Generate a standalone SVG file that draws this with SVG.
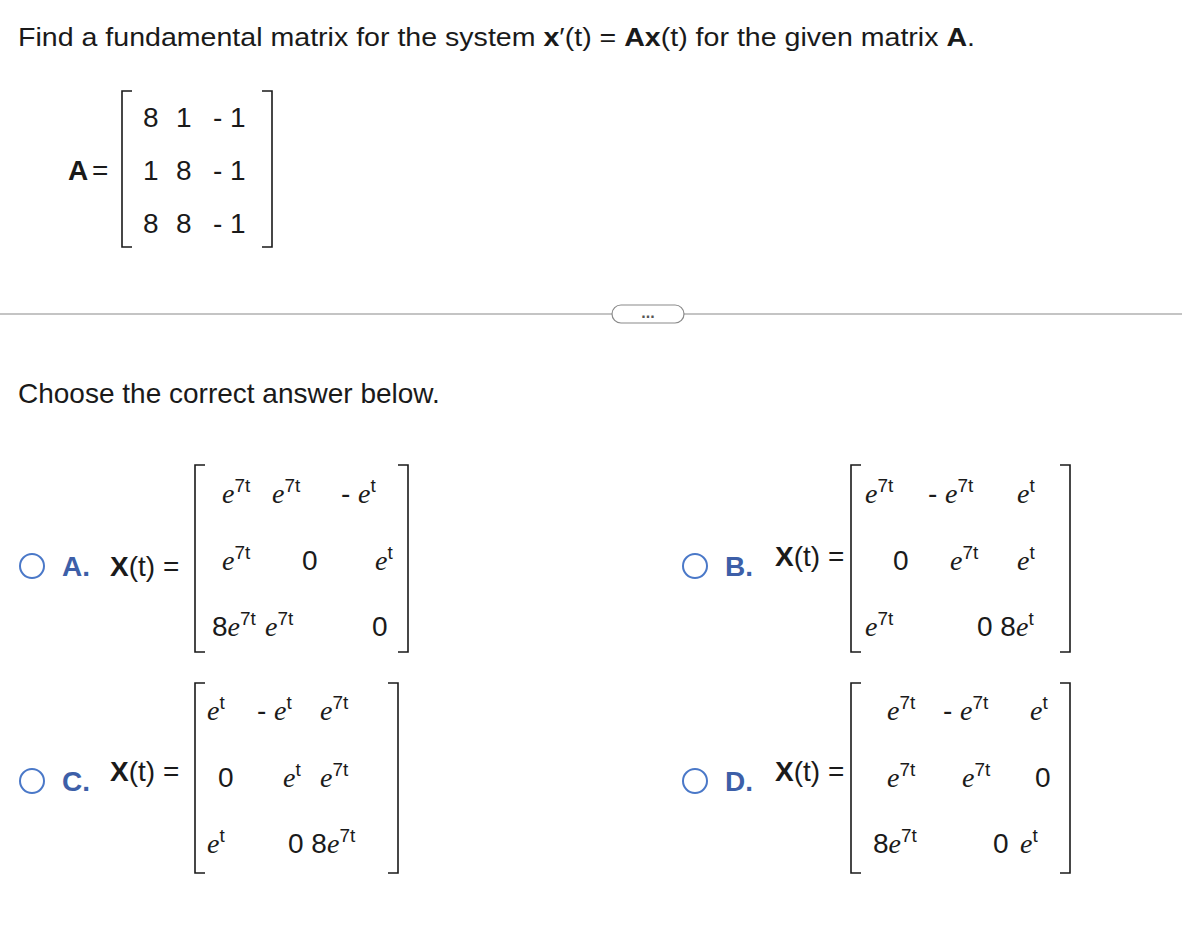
<svg xmlns="http://www.w3.org/2000/svg" width="1182" height="948" viewBox="0 0 1182 948">
<style>
text{font-family:"Liberation Sans",Arial,sans-serif;font-size:28px;fill:#1a1a1a}
.t{font-size:26px}
.e{font-family:"Liberation Serif","Times New Roman",serif;font-style:italic;font-size:28px}
.s{font-size:19px}
.b{font-weight:bold}
.br{fill:none;stroke:#1a1a1a;stroke-width:1.6}
.rad{fill:none;stroke:#4a78c8;stroke-width:2}
.lab{fill:#3d5fa8;font-weight:bold}
</style>
<rect width="1182" height="948" fill="#fff"/>
<text x="18" y="46" class="t" textLength="957" lengthAdjust="spacingAndGlyphs">Find a fundamental matrix for the system <tspan class="b">x</tspan>′(t) = <tspan class="b">Ax</tspan>(t) for the given matrix <tspan class="b">A</tspan>.</text>
<text x="68" y="180" class="b">A</text><text x="92" y="180">=</text>
<path class="br" d="M132,91 H122 V247 H132 M262,91 H272 V247 H262"/>
<text x="143" y="127">8</text><text x="176" y="127">1</text><text x="213" y="127">- 1</text>
<text x="143" y="180">1</text><text x="176" y="180">8</text><text x="213" y="180">- 1</text>
<text x="143" y="233">8</text><text x="176" y="233">8</text><text x="213" y="233">- 1</text>
<line x1="0" y1="314" x2="1182" y2="314" stroke="#8a8a8a" stroke-width="1.2"/>
<rect x="612" y="305" width="72" height="18" rx="9" fill="#fff" stroke="#8a8a8a" stroke-width="1.2"/>
<text x="648" y="318" text-anchor="middle" style="font-size:16px;font-weight:bold;fill:#555">...</text>
<text x="18" y="403">Choose the correct answer below.</text>

<!-- A -->
<circle class="rad" cx="32" cy="566" r="12"/>
<text x="62" y="576" class="lab">A.</text>
<text x="110" y="576"><tspan class="b">X</tspan>(t) =</text>
<path class="br" d="M205,465 H195 V652 H205 M398,465 H408 V652 H398"/>
<text x="222" y="503"><tspan class="e">e</tspan><tspan class="s" dy="-11">7t</tspan></text>
<text x="272" y="503"><tspan class="e">e</tspan><tspan class="s" dy="-11">7t</tspan></text>
<text x="341" y="503">- <tspan class="e">e</tspan><tspan class="s" dy="-11">t</tspan></text>
<text x="222" y="570"><tspan class="e">e</tspan><tspan class="s" dy="-11">7t</tspan></text>
<text x="302" y="570">0</text>
<text x="375" y="570"><tspan class="e">e</tspan><tspan class="s" dy="-11">t</tspan></text>
<text x="212" y="636">8<tspan class="e">e</tspan><tspan class="s" dy="-11">7t</tspan></text>
<text x="265" y="636"><tspan class="e">e</tspan><tspan class="s" dy="-11">7t</tspan></text>
<text x="372" y="636">0</text>

<!-- B -->
<circle class="rad" cx="695" cy="566" r="12"/>
<text x="725" y="576" class="lab">B.</text>
<text x="775" y="566"><tspan class="b">X</tspan>(t) =</text>
<path class="br" d="M861,465 H851 V652 H861 M1060,465 H1070 V652 H1060"/>
<text x="865" y="503"><tspan class="e">e</tspan><tspan class="s" dy="-11">7t</tspan></text>
<text x="928" y="503">- <tspan class="e">e</tspan><tspan class="s" dy="-11">7t</tspan></text>
<text x="1017" y="503"><tspan class="e">e</tspan><tspan class="s" dy="-11">t</tspan></text>
<text x="893" y="570">0</text>
<text x="950" y="570"><tspan class="e">e</tspan><tspan class="s" dy="-11">7t</tspan></text>
<text x="1017" y="570"><tspan class="e">e</tspan><tspan class="s" dy="-11">t</tspan></text>
<text x="865" y="636"><tspan class="e">e</tspan><tspan class="s" dy="-11">7t</tspan></text>
<text x="977" y="636">0 8<tspan class="e">e</tspan><tspan class="s" dy="-11">t</tspan></text>

<!-- C -->
<circle class="rad" cx="32" cy="781" r="12"/>
<text x="62" y="791" class="lab">C.</text>
<text x="110" y="781"><tspan class="b">X</tspan>(t) =</text>
<path class="br" d="M205,683 H195 V873 H205 M388,683 H398 V873 H388"/>
<text x="207" y="720"><tspan class="e">e</tspan><tspan class="s" dy="-11">t</tspan></text>
<text x="257" y="720">- <tspan class="e">e</tspan><tspan class="s" dy="-11">t</tspan></text>
<text x="320" y="720"><tspan class="e">e</tspan><tspan class="s" dy="-11">7t</tspan></text>
<text x="218" y="787">0</text>
<text x="283" y="787"><tspan class="e">e</tspan><tspan class="s" dy="-11">t</tspan></text>
<text x="320" y="787"><tspan class="e">e</tspan><tspan class="s" dy="-11">7t</tspan></text>
<text x="207" y="853"><tspan class="e">e</tspan><tspan class="s" dy="-11">t</tspan></text>
<text x="288" y="853">0 8<tspan class="e">e</tspan><tspan class="s" dy="-11">7t</tspan></text>

<!-- D -->
<circle class="rad" cx="695" cy="781" r="12"/>
<text x="725" y="791" class="lab">D.</text>
<text x="775" y="781"><tspan class="b">X</tspan>(t) =</text>
<path class="br" d="M861,683 H851 V873 H861 M1060,683 H1070 V873 H1060"/>
<text x="887" y="720"><tspan class="e">e</tspan><tspan class="s" dy="-11">7t</tspan></text>
<text x="943" y="720">- <tspan class="e">e</tspan><tspan class="s" dy="-11">7t</tspan></text>
<text x="1030" y="720"><tspan class="e">e</tspan><tspan class="s" dy="-11">t</tspan></text>
<text x="887" y="787"><tspan class="e">e</tspan><tspan class="s" dy="-11">7t</tspan></text>
<text x="962" y="787"><tspan class="e">e</tspan><tspan class="s" dy="-11">7t</tspan></text>
<text x="1035" y="787">0</text>
<text x="873" y="853">8<tspan class="e">e</tspan><tspan class="s" dy="-11">7t</tspan></text>
<text x="993" y="853">0</text>
<text x="1020" y="853"><tspan class="e">e</tspan><tspan class="s" dy="-11">t</tspan></text>
</svg>
